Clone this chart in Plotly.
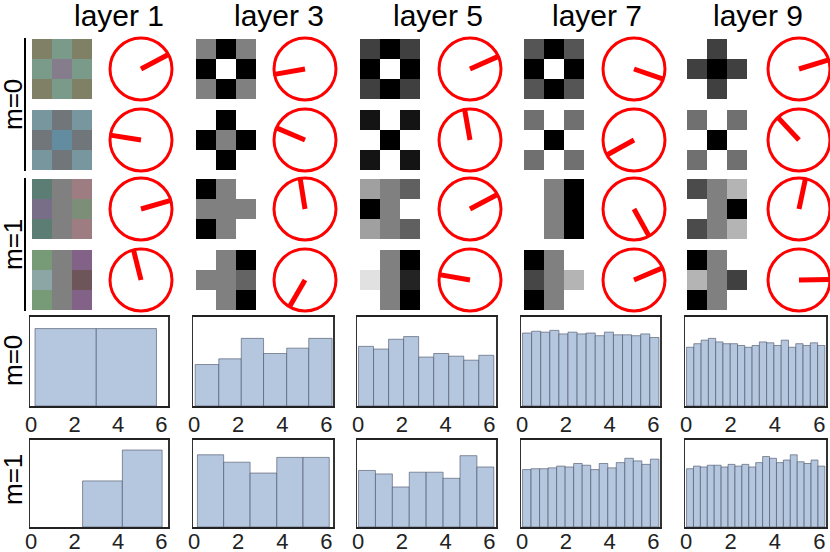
import numpy as np
import plotly.graph_objects as go

W, H = 830, 552

# ---------------- data ----------------
layers = ["layer 1", "layer 3", "layer 5", "layer 7", "layer 9"]
group_labels = ["m=0", "m=1"]
hist_ticks = [0, 2, 4, 6]

# clock-hand angles in degrees (counter-clockwise from east), per layer, per row
hand_angles_l1 = [28, 171, 16, 104]
hand_angles_l3 = [190, 157, 99, 240]
hand_angles_l5 = [24, 100, 28, 170]
hand_angles_l7 = [341, 209, 299, 23]
hand_angles_l9 = [17, 133, 78, 1]

# layer 1 filters (RGB, 3x3)
l1_filters = [
    [[(128, 128, 102), (122, 155, 138), (128, 128, 102)],
     [(122, 155, 138), (133, 125, 140), (122, 155, 138)],
     [(128, 128, 102), (122, 155, 138), (128, 128, 102)]],
    [[(120, 150, 158), (112, 118, 122), (120, 150, 158)],
     [(112, 118, 122), (100, 140, 160), (112, 118, 122)],
     [(120, 150, 158), (112, 118, 122), (120, 150, 158)]],
    [[(92, 125, 115), (128, 128, 128), (158, 125, 130)],
     [(120, 110, 135), (128, 128, 128), (125, 142, 120)],
     [(92, 125, 115), (128, 128, 128), (158, 125, 130)]],
    [[(118, 155, 118), (128, 128, 128), (130, 98, 135)],
     [(140, 165, 165), (128, 128, 128), (110, 85, 90)],
     [(118, 155, 118), (128, 128, 128), (130, 98, 135)]],
]
# layers 3..9 filters (gray levels, 3x3)
l3_filters = [
    [[128, 0, 128], [0, 255, 0], [128, 0, 128]],
    [[255, 0, 255], [0, 128, 0], [255, 0, 255]],
    [[0, 128, 255], [128, 128, 128], [0, 128, 255]],
    [[255, 128, 0], [128, 128, 100], [255, 128, 0]],
]
l5_filters = [
    [[64, 0, 64], [0, 255, 0], [64, 0, 64]],
    [[20, 255, 20], [255, 0, 255], [20, 255, 20]],
    [[160, 128, 96], [0, 128, 255], [160, 128, 96]],
    [[255, 128, 0], [225, 128, 35], [255, 128, 0]],
]
l7_filters = [
    [[85, 0, 85], [0, 255, 0], [85, 0, 85]],
    [[112, 255, 112], [255, 0, 255], [112, 255, 112]],
    [[255, 128, 0], [255, 128, 0], [255, 128, 0]],
    [[0, 128, 255], [70, 128, 180], [0, 128, 255]],
]
l9_filters = [
    [[255, 64, 255], [64, 0, 64], [255, 64, 255]],
    [[112, 255, 112], [255, 0, 255], [112, 255, 112]],
    [[75, 128, 180], [255, 128, 0], [75, 128, 180]],
    [[0, 128, 255], [180, 128, 64], [0, 128, 255]],
]

# histograms: bin edges and relative heights
h_l1_m0_edges = [0.18, 3.0, 5.77]
h_l1_m0_vals = [0.87, 0.87]
h_l1_m1_edges = [2.37, 4.2, 6.03]
h_l1_m1_vals = [0.53, 0.885]
h_l3_m0_edges = [0.05, 1.12, 2.14, 3.15, 4.2, 5.2, 6.26]
h_l3_m0_vals = [0.466, 0.53, 0.76, 0.59, 0.65, 0.76]
h_l3_m1_edges = [0.15, 1.34, 2.54, 3.75, 4.94, 6.13]
h_l3_m1_vals = [0.83, 0.745, 0.62, 0.80, 0.80]
h_l5_m0_range = (0.02, 6.2)
h_l5_m0_vals = [0.67, 0.64, 0.75, 0.78, 0.55, 0.59, 0.56, 0.515, 0.57]
h_l5_m1_range = (0.02, 6.2)
h_l5_m1_vals = [0.65, 0.61, 0.46, 0.63, 0.63, 0.56, 0.82, 0.69]
h_l7_m0_range = (0.02, 6.25)
h_l7_m0_vals = [0.82, 0.84, 0.83, 0.85, 0.81, 0.83, 0.81, 0.82, 0.79, 0.83,
                0.80, 0.80, 0.79, 0.81, 0.77]
h_l7_m1_range = (0.02, 6.25)
h_l7_m1_vals = [0.66, 0.67, 0.67, 0.68, 0.70, 0.69, 0.73, 0.71, 0.66, 0.73,
                0.68, 0.74, 0.79, 0.76, 0.72, 0.78]
h_l9_m0_range = (0.02, 6.25)
h_l9_m0_vals = [0.66, 0.70, 0.74, 0.76, 0.72, 0.70, 0.70, 0.68, 0.66, 0.68,
                0.72, 0.71, 0.68, 0.74, 0.66, 0.70, 0.68, 0.71, 0.68]
h_l9_m1_range = (0.02, 6.25)
h_l9_m1_vals = [0.67, 0.70, 0.69, 0.71, 0.71, 0.69, 0.72, 0.70, 0.72, 0.69,
                0.74, 0.81, 0.79, 0.74, 0.77, 0.83, 0.75, 0.73, 0.77, 0.70]

# ---------------- assemble ----------------
hand_angles = [hand_angles_l1, hand_angles_l3, hand_angles_l5, hand_angles_l7, hand_angles_l9]
gray_sets = [l3_filters, l5_filters, l7_filters, l9_filters]


def even_edges(rng, n):
    return list(np.linspace(rng[0], rng[1], n + 1))


hists = [
    [(h_l1_m0_edges, h_l1_m0_vals), (h_l1_m1_edges, h_l1_m1_vals)],
    [(h_l3_m0_edges, h_l3_m0_vals), (h_l3_m1_edges, h_l3_m1_vals)],
    [(even_edges(h_l5_m0_range, len(h_l5_m0_vals)), h_l5_m0_vals),
     (even_edges(h_l5_m1_range, len(h_l5_m1_vals)), h_l5_m1_vals)],
    [(even_edges(h_l7_m0_range, len(h_l7_m0_vals)), h_l7_m0_vals),
     (even_edges(h_l7_m1_range, len(h_l7_m1_vals)), h_l7_m1_vals)],
    [(even_edges(h_l9_m0_range, len(h_l9_m0_vals)), h_l9_m0_vals),
     (even_edges(h_l9_m1_range, len(h_l9_m1_vals)), h_l9_m1_vals)],
]

def px(x):
    return x / W

def py(y):
    return 1 - y / H

# layout geometry (pixels)
img_x0 = [32, 196, 360, 524, 687]
img_size = 60
row_y0 = [39, 110, 179, 250]
clock_cx = [141, 305, 470, 634, 799]
clock_r = 31
hist_x = [(30, 168), (193, 333), (357, 496), (521, 660), (685, 826)]
hist_y = [(317, 406), (440, 527)]
tick_standoff = [-2, -6]
title_cx = [119, 279, 438, 597, 758]

fig = go.Figure()
layout = dict(
    width=W, height=H, margin=dict(l=0, r=0, t=0, b=0, autoexpand=False),
    paper_bgcolor="white", plot_bgcolor="white", showlegend=False,
    font=dict(family="Liberation Sans, Arial, sans-serif", color="#111"),
)

ax = 0
pol = 0
for c in range(5):
    for r in range(4):
        # filter image
        ax += 1
        if c == 0:
            z = l1_filters[r]
        else:
            g = gray_sets[c - 1][r]
            z = [[(v, v, v) for v in row] for row in g]
        fig.add_trace(go.Image(z=z, xaxis=f"x{ax}", yaxis=f"y{ax}", hoverinfo="skip"))
        x0 = img_x0[c]
        y0 = row_y0[r]
        layout[f"xaxis{ax}"] = dict(domain=[px(x0), px(x0 + img_size)], range=[-0.5, 2.5],
                                    visible=False, anchor=f"y{ax}", automargin=False)
        layout[f"yaxis{ax}"] = dict(domain=[py(y0 + img_size), py(y0)], range=[2.5, -0.5],
                                    visible=False, anchor=f"x{ax}", automargin=False)
        # clock
        pol += 1
        pname = "polar" if pol == 1 else f"polar{pol}"
        cx = clock_cx[c]
        cy = y0 + img_size / 2
        a = hand_angles[c][r]
        fig.add_trace(go.Scatterpolar(r=[0, 1], theta=[a, a], mode="lines",
                                      line=dict(color="#ff0000", width=5),
                                      subplot=pname, hoverinfo="skip"))
        layout[pname] = dict(
            domain=dict(x=[px(cx - clock_r), px(cx + clock_r)],
                        y=[py(cy + clock_r), py(cy - clock_r)]),
            bgcolor="white",
            radialaxis=dict(visible=False, range=[0, 1]),
            angularaxis=dict(showline=True, linecolor="#ff0000", linewidth=3,
                             showgrid=False, showticklabels=False, ticks=""),
        )

for c in range(5):
    for m in range(2):
        ax += 1
        edges, vals = hists[c][m]
        edges = np.array(edges, dtype=float)
        centers = (edges[:-1] + edges[1:]) / 2
        widths = edges[1:] - edges[:-1]
        fig.add_trace(go.Bar(x=centers, y=vals, width=widths,
                             marker=dict(color="#b5c6df",
                                         line=dict(color="rgba(70,80,100,0.6)", width=1)),
                             xaxis=f"x{ax}", yaxis=f"y{ax}", hoverinfo="skip"))
        hx0, hx1 = hist_x[c]
        hy0, hy1 = hist_y[m]
        layout[f"xaxis{ax}"] = dict(domain=[px(hx0), px(hx1)], range=[-0.05, 6.3],
                                    anchor=f"y{ax}", tickvals=hist_ticks,
                                    ticktext=[str(t) for t in hist_ticks],
                                    showline=True, linecolor="#222", linewidth=2, mirror=True,
                                    showgrid=False, zeroline=False, ticks="",
                                    automargin=False, ticklabelstandoff=tick_standoff[m],
                                    tickfont=dict(size=22, color="#222"))
        layout[f"yaxis{ax}"] = dict(domain=[py(hy1), py(hy0)], range=[0, 1],
                                    anchor=f"x{ax}", showticklabels=False,
                                    showline=True, linecolor="#333", linewidth=1.5, mirror=True,
                                    showgrid=False, zeroline=False, ticks="",
                                    automargin=False)

annotations = []
for c in range(5):
    annotations.append(dict(text=layers[c], x=px(title_cx[c]), y=py(15), xref="paper", yref="paper",
                            showarrow=False, xanchor="center", yanchor="middle",
                            font=dict(size=30, color="#000")))
for i, (yc) in enumerate([105, 245, 361, 480]):
    annotations.append(dict(text=group_labels[i % 2], x=px(13), y=py(yc), xref="paper", yref="paper",
                            showarrow=False, xanchor="center", yanchor="middle", textangle=-90,
                            font=dict(size=26, color="#000")))
layout["annotations"] = annotations
layout["shapes"] = [
    dict(type="line", xref="paper", yref="paper", x0=px(25), x1=px(25), y0=py(38), y1=py(171),
         line=dict(color="#000", width=2)),
    dict(type="line", xref="paper", yref="paper", x0=px(25), x1=px(25), y0=py(178), y1=py(311),
         line=dict(color="#000", width=2)),
]
fig.update_layout(**layout)
fig.write_html("out.html", config={"displayModeBar": False, "staticPlot": True},
               post_script="document.body.style.margin='0';document.body.style.overflow='hidden';")
